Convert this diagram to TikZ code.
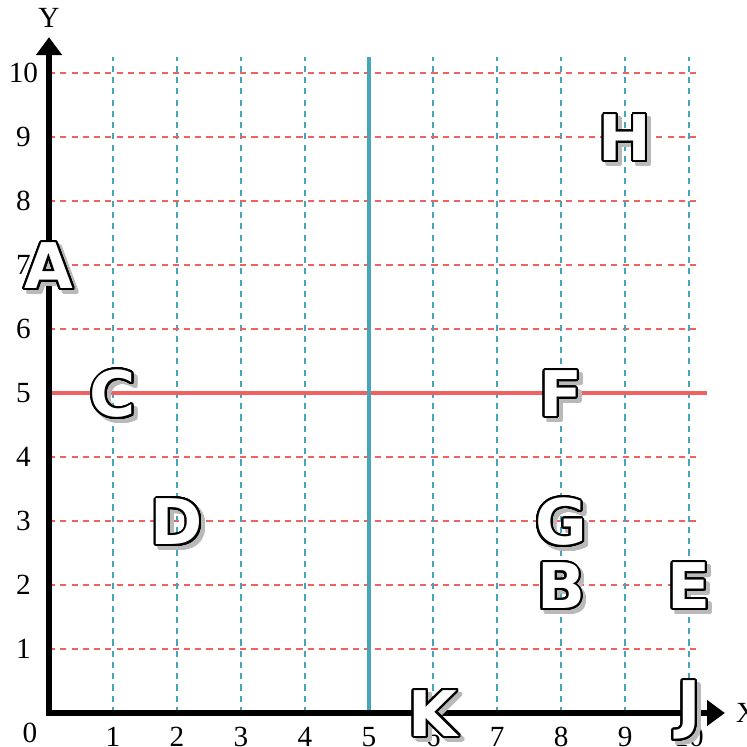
\documentclass[tikz,border=0pt]{standalone}
\usepackage{fontspec}
\setmainfont{Liberation Serif}
\newfontfamily\letterfont{DejaVu Sans}
\usepackage{contour}
\contournumber{32}
\usetikzlibrary{arrows.meta}
\definecolor{gridred}{RGB}{240,98,98}
\definecolor{gridblue}{RGB}{72,164,184}
\definecolor{shadowgray}{RGB}{185,185,185}
\newcommand{\markletter}[3]{%
  \node[lettershadow] (#1s) at ([shift={(0.06,-0.06)}]#2) {\contourlength{0.9pt}\contour{shadowgray}{\textcolor{shadowgray}{#3}}};
  \node[letterbox] (#1) at (#2) {\contourlength{0.9pt}\contour{black}{\textcolor{white}{#3}}};
}

\begin{document}
\begin{tikzpicture}[>={Triangle[width=0.39cm,length=0.28cm]},font=\fontsize{13}{15}\selectfont]
        \tikzstyle{dashred} = [gridred, line width=0.6pt, dash pattern=on 2.7pt off 2.3pt]
        \tikzstyle{dashblue} = [gridblue, line width=0.6pt, dash pattern=on 2.7pt off 2.3pt]
        \tikzstyle{letterbox} = [inner sep=0pt, font=\letterfont\bfseries\fontsize{28}{30}\selectfont]
        \tikzstyle{lettershadow} = [letterbox]
        \useasboundingbox (-0.766,-0.531) rectangle (10.89,11.14);

        % Grid
        \foreach \i in {1,2,3,4,6,7,8,9,10} {
            \coordinate (h\i a) at (0,\i);
            \coordinate (h\i b) at (10.17,\i);
            \draw[dashred] (h\i a) -- (h\i b);
            \coordinate (v\i a) at (\i,0);
            \coordinate (v\i b) at (\i,10.25);
            \draw[dashblue] (v\i a) -- (v\i b);
        }
        \coordinate (h5a) at (0,5);
        \coordinate (h5b) at (10.28,5);
        \coordinate (v5a) at (5,0);
        \coordinate (v5b) at (5,10.25);
        \draw[gridred, line width=1.4pt] (h5a) -- (h5b);
        \draw[gridblue, line width=1.4pt] (v5a) -- (v5b);

        % Axes
        \coordinate (O) at (0,0);
        \coordinate (ytip) at (0,10.56);
        \coordinate (xtip) at (10.56,0);
        \draw[<->, line width=2.6pt, miter limit=10] (ytip) -- (O) -- (xtip);
        \node (ylab) at (0,10.86) {Y};
        \node (xlab) at (10.9,0) {X};
        \node (zero) at (-0.3,-0.31) {0};
        \foreach \i in {1,...,10} {
            \node (xl\i) at (\i,-0.37) {\i};
            \node (yl\i) at (-0.4,\i) {\i};
        }

        % Letters
        \markletter{A}{0,6.97}{A}
        \markletter{B}{8,1.97}{B}
        \markletter{C}{1,4.97}{C}
        \markletter{D}{2,2.97}{D}
        \markletter{E}{10,1.97}{E}
        \markletter{F}{8,4.97}{F}
        \markletter{G}{8,2.97}{G}
        \markletter{H}{9,8.97}{H}
        \markletter{J}{10,0.03}{J}
        \markletter{K}{6,-0.02}{K}
\end{tikzpicture}
\end{document}
